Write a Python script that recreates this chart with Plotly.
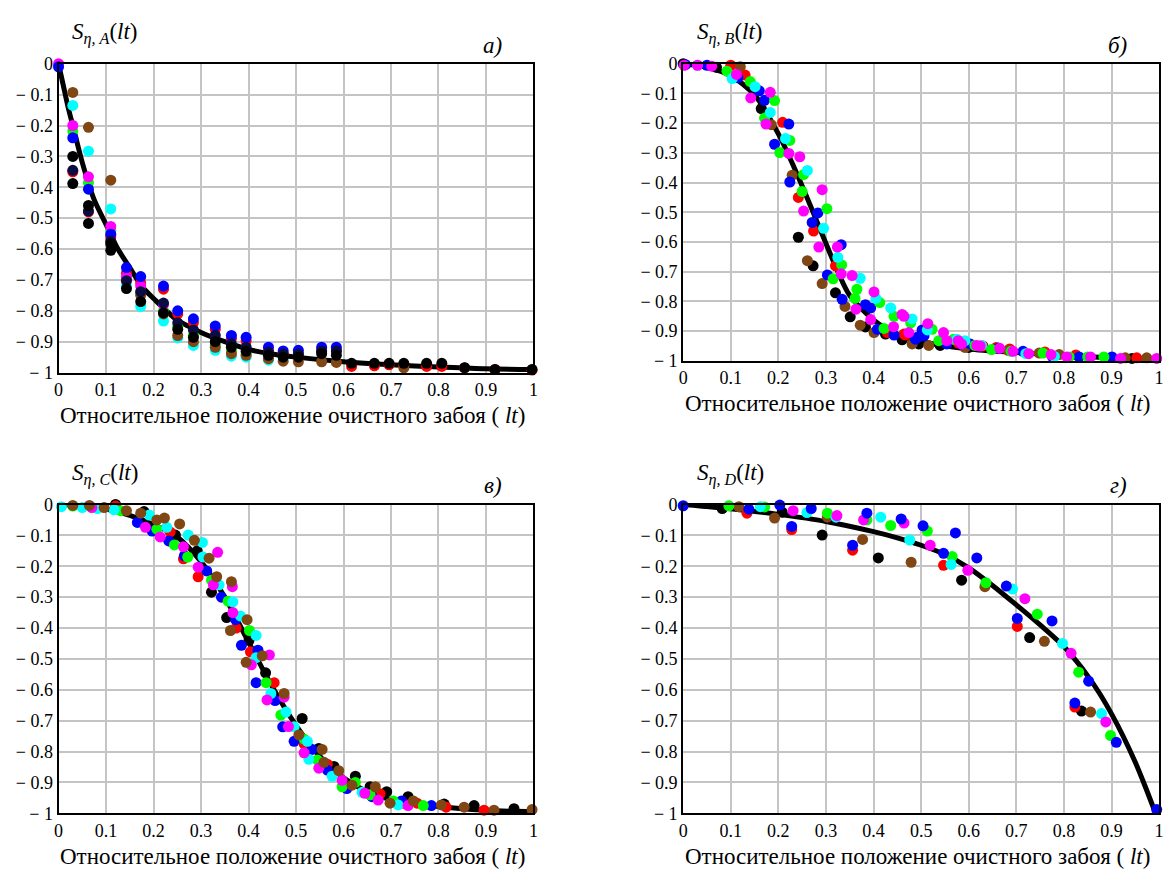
import plotly.graph_objects as go

# ---------------- data ----------------
# fitted curves
A_curve_x = [0, 0.01, 0.02, 0.03, 0.05, 0.075, 0.1, 0.125, 0.15, 0.175, 0.2, 0.25, 0.3, 0.35, 0.4, 0.45, 0.5, 0.6, 0.7, 0.8, 0.9, 1.0]
A_curve_y = [0, -0.07, -0.14, -0.2, -0.32, -0.44, -0.52, -0.6, -0.66, -0.72, -0.76, -0.83, -0.87, -0.9, -0.925, -0.94, -0.95, -0.965, -0.975, -0.982, -0.988, -0.99]
B_curve_x = [0, 0.05, 0.1, 0.15, 0.2, 0.235, 0.27, 0.3, 0.325, 0.35, 0.4, 0.45, 0.5, 0.6, 0.7, 0.8, 0.9, 1.0]
B_curve_y = [0, -0.012, -0.04, -0.105, -0.236, -0.356, -0.488, -0.605, -0.7, -0.78, -0.862, -0.912, -0.935, -0.96, -0.972, -0.982, -0.99, -0.995]
C_curve_x = [0, 0.05, 0.1, 0.15, 0.2, 0.25, 0.3, 0.35, 0.4, 0.45, 0.5, 0.55, 0.6, 0.65, 0.7, 0.8, 0.9, 1.0]
C_curve_y = [0, -0.004, -0.015, -0.035, -0.065, -0.105, -0.185, -0.3, -0.445, -0.59, -0.715, -0.815, -0.885, -0.93, -0.955, -0.978, -0.99, -0.995]
D_curve_x = [0, 0.1, 0.2, 0.3, 0.4, 0.45, 0.5, 0.55, 0.6, 0.65, 0.7, 0.75, 0.8, 0.825, 0.85, 0.875, 0.9, 0.925, 0.95, 0.97, 0.99]
D_curve_y = [0, -0.014, -0.032, -0.055, -0.088, -0.108, -0.132, -0.162, -0.205, -0.262, -0.325, -0.39, -0.46, -0.505, -0.555, -0.612, -0.678, -0.752, -0.835, -0.91, -0.99]

# scatter points per colour, (x, y)
A_red = [(0.03, -0.35), (0.063, -0.48), (0.11, -0.56), (0.143, -0.678), (0.173, -0.71), (0.221, -0.73), (0.251, -0.81), (0.284, -0.838), (0.33, -0.86), (0.364, -0.89), (0.395, -0.897), (0.442, -0.93), (0.473, -0.94), (0.505, -0.94), (0.554, -0.93), (0.585, -0.93), (0.617, -0.98), (0.665, -0.978), (0.696, -0.975), (0.727, -0.978), (0.775, -0.98), (0.807, -0.98), (0.855, -0.985), (0.919, -0.99), (0.997, -0.992)]
A_green = [(0.03, -0.218), (0.063, -0.385), (0.11, -0.54), (0.143, -0.69), (0.173, -0.74), (0.221, -0.8), (0.251, -0.85), (0.284, -0.88), (0.33, -0.91), (0.364, -0.93), (0.395, -0.94)]
A_cyan = [(0.03, -0.135), (0.063, -0.283), (0.11, -0.47), (0.143, -0.72), (0.173, -0.786), (0.221, -0.833), (0.251, -0.888), (0.284, -0.912), (0.33, -0.928), (0.364, -0.947), (0.395, -0.95), (0.442, -0.96)]
A_brown = [(0.03, -0.093), (0.063, -0.206), (0.11, -0.377), (0.143, -0.7), (0.173, -0.75), (0.221, -0.81), (0.251, -0.88), (0.284, -0.9), (0.33, -0.918), (0.364, -0.939), (0.395, -0.944), (0.442, -0.955), (0.473, -0.963), (0.505, -0.965), (0.554, -0.965), (0.585, -0.967), (0.727, -0.985), (0.855, -0.985)]
A_magenta = [(0, 0), (0.03, -0.2), (0.063, -0.366), (0.11, -0.527), (0.143, -0.69), (0.173, -0.72), (0.221, -0.78)]
A_blue = [(0, -0.01), (0.03, -0.24), (0.063, -0.406), (0.11, -0.552), (0.143, -0.66), (0.173, -0.689), (0.221, -0.72), (0.251, -0.8), (0.284, -0.826), (0.33, -0.849), (0.364, -0.88), (0.395, -0.886), (0.442, -0.918), (0.473, -0.93), (0.505, -0.928), (0.554, -0.918), (0.585, -0.918)]
A_navy = [(0.03, -0.345), (0.063, -0.477), (0.11, -0.575), (0.143, -0.703), (0.173, -0.738), (0.221, -0.775), (0.251, -0.839), (0.284, -0.862), (0.33, -0.88), (0.364, -0.907), (0.395, -0.918), (0.442, -0.934), (0.473, -0.94), (0.505, -0.94), (0.554, -0.93), (0.585, -0.93)]
A_black = [(0.03, -0.3), (0.03, -0.388), (0.063, -0.459), (0.063, -0.517), (0.11, -0.583), (0.11, -0.604), (0.143, -0.728), (0.173, -0.77), (0.221, -0.807), (0.251, -0.86), (0.284, -0.886), (0.33, -0.9), (0.364, -0.918), (0.395, -0.931), (0.442, -0.944), (0.473, -0.95), (0.505, -0.95), (0.554, -0.939), (0.585, -0.944), (0.617, -0.97), (0.665, -0.97), (0.696, -0.97), (0.727, -0.97), (0.775, -0.97), (0.807, -0.97), (0.855, -0.984), (0.919, -0.99), (0.997, -0.99)]

B_black = [(0.0, 0.0), (0.07, -0.012), (0.164, -0.151), (0.242, -0.584), (0.273, -0.68), (0.32, -0.771), (0.351, -0.852), (0.383, -0.886), (0.425, -0.91), (0.46, -0.921), (0.46, -0.929), (0.495, -0.943), (0.54, -0.948), (0.6, -0.955), (0.943, -0.992)]
B_red = [(0.1, -0.005), (0.13, -0.038), (0.209, -0.197), (0.242, -0.45), (0.274, -0.563), (0.32, -0.68), (0.429, -0.905), (0.464, -0.91), (0.467, -0.913), (0.578, -0.94), (0.63, -0.95), (0.658, -0.955), (0.686, -0.96), (0.76, -0.97), (0.825, -0.98), (0.953, -0.99)]
B_brown = [(0.12, -0.01), (0.185, -0.205), (0.229, -0.375), (0.261, -0.663), (0.292, -0.74), (0.34, -0.817), (0.372, -0.88), (0.401, -0.905), (0.481, -0.943), (0.516, -0.948), (0.592, -0.955), (0.683, -0.965), (0.748, -0.974), (0.79, -0.979), (0.929, -0.99), (0.974, -0.99)]
B_blue = [(0.005, -0.003), (0.05, -0.005), (0.115, -0.047), (0.16, -0.091), (0.171, -0.123), (0.222, -0.203), (0.192, -0.271), (0.224, -0.398), (0.283, -0.502), (0.271, -0.534), (0.332, -0.609), (0.303, -0.711), (0.334, -0.793), (0.383, -0.811), (0.394, -0.822), (0.408, -0.894), (0.443, -0.913), (0.488, -0.927), (0.492, -0.921), (0.502, -0.896), (0.506, -0.916), (0.554, -0.943), (0.585, -0.943), (0.603, -0.943), (0.662, -0.958), (0.714, -0.968), (0.776, -0.987), (0.832, -0.987), (0.901, -0.987)]
B_green = [(0.092, -0.025), (0.141, -0.06), (0.192, -0.124), (0.171, -0.183), (0.224, -0.258), (0.203, -0.299), (0.253, -0.373), (0.25, -0.43), (0.302, -0.488), (0.333, -0.677), (0.315, -0.724), (0.365, -0.759), (0.361, -0.79), (0.413, -0.804), (0.443, -0.85), (0.422, -0.891), (0.478, -0.872), (0.523, -0.894), (0.537, -0.932), (0.568, -0.927), (0.613, -0.948), (0.648, -0.962), (0.689, -0.968), (0.756, -0.974), (0.811, -0.987), (0.85, -0.987), (0.884, -0.987)]
B_cyan = [(0.03, -0.005), (0.103, -0.05), (0.151, -0.077), (0.183, -0.164), (0.215, -0.252), (0.261, -0.359), (0.295, -0.554), (0.325, -0.652), (0.372, -0.722), (0.405, -0.79), (0.436, -0.822), (0.481, -0.859), (0.513, -0.896), (0.575, -0.927), (0.592, -0.932), (0.627, -0.948), (0.72, -0.976), (0.78, -0.985)]
B_magenta = [(0.002, -0.005), (0.03, -0.005), (0.06, -0.008), (0.112, -0.036), (0.183, -0.096), (0.142, -0.115), (0.174, -0.203), (0.222, -0.302), (0.245, -0.313), (0.292, -0.424), (0.253, -0.496), (0.285, -0.617), (0.324, -0.617), (0.332, -0.707), (0.355, -0.713), (0.401, -0.768), (0.363, -0.826), (0.394, -0.861), (0.464, -0.85), (0.442, -0.885), (0.474, -0.905), (0.46, -0.844), (0.514, -0.875), (0.547, -0.905), (0.554, -0.932), (0.578, -0.932), (0.585, -0.943), (0.617, -0.948), (0.624, -0.95), (0.665, -0.958), (0.693, -0.968), (0.726, -0.976), (0.773, -0.979), (0.806, -0.987), (0.856, -0.987), (0.919, -0.992), (0.995, -0.992)]

C_black = [(0.12, 0.0), (0.18, -0.023), (0.246, -0.099), (0.292, -0.15), (0.322, -0.284), (0.354, -0.366), (0.401, -0.44), (0.436, -0.545), (0.513, -0.693), (0.548, -0.79), (0.58, -0.848), (0.625, -0.88), (0.656, -0.914), (0.691, -0.93), (0.736, -0.946), (0.812, -0.97), (0.875, -0.975), (0.959, -0.985)]
C_red = [(0.12, -0.005), (0.235, -0.089), (0.263, -0.176), (0.294, -0.234), (0.374, -0.4), (0.404, -0.477), (0.454, -0.577), (0.517, -0.775), (0.566, -0.841), (0.677, -0.937), (0.726, -0.967), (0.755, -0.967), (0.816, -0.98), (0.896, -0.99)]
C_blue = [(0.166, -0.058), (0.197, -0.086), (0.232, -0.118), (0.265, -0.166), (0.312, -0.215), (0.343, -0.3), (0.373, -0.373), (0.385, -0.456), (0.42, -0.472), (0.416, -0.577), (0.456, -0.635), (0.472, -0.72), (0.496, -0.767), (0.534, -0.793), (0.566, -0.86), (0.607, -0.92), (0.66, -0.946), (0.722, -0.96), (0.785, -0.975)]
C_green = [(0.03, -0.005), (0.131, -0.02), (0.207, -0.08), (0.244, -0.131), (0.272, -0.17), (0.322, -0.245), (0.357, -0.313), (0.402, -0.408), (0.437, -0.577), (0.468, -0.682), (0.517, -0.76), (0.545, -0.827), (0.597, -0.914), (0.625, -0.9), (0.656, -0.94), (0.705, -0.96), (0.768, -0.975)]
C_cyan = [(0.006, -0.007), (0.05, -0.01), (0.082, -0.013), (0.117, -0.017), (0.191, -0.034), (0.228, -0.074), (0.273, -0.099), (0.303, -0.123), (0.304, -0.17), (0.338, -0.26), (0.367, -0.315), (0.383, -0.361), (0.416, -0.424), (0.416, -0.496), (0.447, -0.612), (0.479, -0.672), (0.496, -0.72), (0.524, -0.767), (0.527, -0.825), (0.576, -0.88), (0.639, -0.932), (0.715, -0.973)]
C_magenta = [(0.07, -0.01), (0.183, -0.074), (0.214, -0.105), (0.263, -0.137), (0.335, -0.155), (0.294, -0.203), (0.326, -0.26), (0.366, -0.266), (0.367, -0.35), (0.444, -0.487), (0.406, -0.519), (0.439, -0.633), (0.475, -0.624), (0.484, -0.719), (0.517, -0.804), (0.548, -0.854), (0.597, -0.893), (0.645, -0.935), (0.673, -0.957), (0.736, -0.975)]
C_brown = [(0.03, -0.003), (0.065, -0.003), (0.096, -0.01), (0.143, -0.02), (0.173, -0.028), (0.207, -0.05), (0.223, -0.044), (0.255, -0.063), (0.286, -0.116), (0.317, -0.174), (0.333, -0.234), (0.364, -0.25), (0.362, -0.408), (0.397, -0.373), (0.395, -0.511), (0.429, -0.49), (0.475, -0.612), (0.506, -0.746), (0.555, -0.793), (0.559, -0.835), (0.59, -0.862), (0.618, -0.909), (0.667, -0.914), (0.698, -0.967), (0.747, -0.96), (0.806, -0.973), (0.854, -0.98), (0.917, -0.99), (0.997, -0.988)]

D_black = [(0.082, -0.013), (0.208, -0.025), (0.292, -0.099), (0.41, -0.173), (0.585, -0.245), (0.728, -0.431), (0.837, -0.669)]
D_red = [(0.134, -0.028), (0.228, -0.081), (0.356, -0.148), (0.547, -0.197), (0.702, -0.395), (0.823, -0.656)]
D_blue = [(0.0, -0.004), (0.138, -0.015), (0.203, -0.002), (0.228, -0.071), (0.269, -0.013), (0.356, -0.132), (0.386, -0.028), (0.458, -0.047), (0.504, -0.069), (0.572, -0.092), (0.547, -0.158), (0.617, -0.173), (0.679, -0.264), (0.702, -0.369), (0.775, -0.377), (0.852, -0.572), (0.823, -0.643), (0.91, -0.77), (0.995, -0.988)]
D_green = [(0.096, -0.004), (0.171, -0.008), (0.303, -0.028), (0.386, -0.05), (0.436, -0.068), (0.513, -0.086), (0.565, -0.168), (0.636, -0.253), (0.744, -0.355), (0.831, -0.543), (0.898, -0.748)]
D_cyan = [(0.162, -0.007), (0.26, -0.026), (0.321, -0.041), (0.415, -0.041), (0.476, -0.115), (0.563, -0.194), (0.692, -0.274), (0.797, -0.45), (0.879, -0.677)]
D_magenta = [(0.231, -0.02), (0.323, -0.036), (0.379, -0.05), (0.464, -0.06), (0.519, -0.132), (0.598, -0.213), (0.718, -0.305), (0.815, -0.482), (0.888, -0.704)]
D_brown = [(0.117, -0.007), (0.192, -0.044), (0.303, -0.041), (0.377, -0.113), (0.479, -0.187), (0.634, -0.266), (0.759, -0.443), (0.856, -0.672)]

x_ticks = [0, 0.1, 0.2, 0.3, 0.4, 0.5, 0.6, 0.7, 0.8, 0.9, 1]
x_ticktext = ["0", "0.1", "0.2", "0.3", "0.4", "0.5", "0.6", "0.7", "0.8", "0.9", "1"]
y_ticks = [0, -0.1, -0.2, -0.3, -0.4, -0.5, -0.6, -0.7, -0.8, -0.9, -1]
y_ticktext = ["0", "\u2212 0.1", "\u2212 0.2", "\u2212 0.3", "\u2212 0.4", "\u2212 0.5", "\u2212 0.6", "\u2212 0.7", "\u2212 0.8", "\u2212 0.9", "\u2212 1"]

panel_letters = ["а)", "б)", "в)", "г)"]
panel_subs = ["A", "B", "C", "D"]
x_title = "Относительное положение очистного забоя ( <i>lt</i>)"

# ---------------- styling ----------------
W, H = 1176, 880
COL = {"black": "#000000", "navy": "#0c0c44", "red": "#ff0000", "blue": "#0000ff",
       "green": "#00ff00", "cyan": "#00ffff", "magenta": "#ff00ff", "brown": "#804614"}
FONT = "Times New Roman, Liberation Serif, DejaVu Serif, Noto Serif, serif"

# plot areas in pixels: (left, right, top, bottom)
boxes = [(54, 533, 55, 371), (684, 1164, 55, 359), (54, 533, 506, 822), (684, 1164, 506, 822)]

panels = [
    (A_curve_x, A_curve_y, [("red", A_red), ("green", A_green), ("cyan", A_cyan), ("brown", A_brown),
                            ("magenta", A_magenta), ("blue", A_blue), ("navy", A_navy), ("black", A_black)]),
    (B_curve_x, B_curve_y, [("black", B_black), ("red", B_red), ("brown", B_brown), ("blue", B_blue),
                            ("green", B_green), ("cyan", B_cyan), ("magenta", B_magenta)]),
    (C_curve_x, C_curve_y, [("black", C_black), ("red", C_red), ("blue", C_blue), ("green", C_green),
                            ("cyan", C_cyan), ("magenta", C_magenta), ("brown", C_brown)]),
    (D_curve_x, D_curve_y, [("black", D_black), ("red", D_red), ("brown", D_brown), ("green", D_green),
                            ("cyan", D_cyan), ("magenta", D_magenta), ("blue", D_blue)]),
]

fig = go.Figure()
layout = dict(width=W, height=H, margin=dict(l=0, r=0, t=0, b=0), paper_bgcolor="white",
              plot_bgcolor="white", showlegend=False, font=dict(family=FONT, color="black", size=18))
annotations = []

for i, ((cx, cy, groups), (l, r, t, b)) in enumerate(zip(panels, boxes)):
    n = "" if i == 0 else str(i + 1)
    xa, ya = "x" + n, "y" + n
    fig.add_trace(go.Scatter(x=cx, y=cy, mode="lines", line=dict(color="black", width=5, shape="spline", smoothing=0.8),
                             xaxis=xa, yaxis=ya, hoverinfo="skip", cliponaxis=False))
    for cname, pts in groups:
        fig.add_trace(go.Scatter(x=[p[0] for p in pts], y=[p[1] for p in pts], mode="markers",
                                 marker=dict(color=COL[cname], size=11, line=dict(width=0)),
                                 xaxis=xa, yaxis=ya, cliponaxis=False, name=cname))
    axis_common = dict(showgrid=True, gridcolor="#c4c4c4", gridwidth=2, zeroline=False,
                       showline=True, linecolor="black", linewidth=2, mirror=True, ticks="",
                       tickfont=dict(family=FONT, size=18, color="black"), fixedrange=True)
    layout["xaxis" + n] = dict(axis_common, domain=[l / W, r / W], range=[0, 1], anchor=ya,
                               tickmode="array", tickvals=x_ticks, ticktext=x_ticktext)
    layout["yaxis" + n] = dict(axis_common, domain=[1 - b / H, 1 - t / H], range=[-1, 0], anchor=xa,
                               tickmode="array", tickvals=y_ticks, ticktext=y_ticktext)
    # axis title under plot
    annotations.append(dict(x=((l + r) / 2 - 4) / W, y=1 - (b + 44) / H, xref="paper", yref="paper",
                            text=x_title, showarrow=False, xanchor="center", yanchor="middle",
                            font=dict(family=FONT, size=23, color="black")))
    # y label
    annotations.append(dict(x=(l + 12) / W, y=1 - (t - 31) / H, xref="paper", yref="paper",
                            text="<i>S</i><sub><i>η, %s</i></sub>(<i>lt</i>)" % panel_subs[i],
                            showarrow=False, xanchor="left", yanchor="middle",
                            font=dict(family=FONT, size=23, color="black")))
    # panel letter
    annotations.append(dict(x=(r - 30) / W, y=1 - (t - 19) / H, xref="paper", yref="paper",
                            text="<i>%s</i>" % panel_letters[i], showarrow=False, xanchor="right",
                            yanchor="middle", font=dict(family=FONT, size=23, color="black")))

layout["annotations"] = annotations
fig.update_layout(**layout)
fig.write_html("out.html")
